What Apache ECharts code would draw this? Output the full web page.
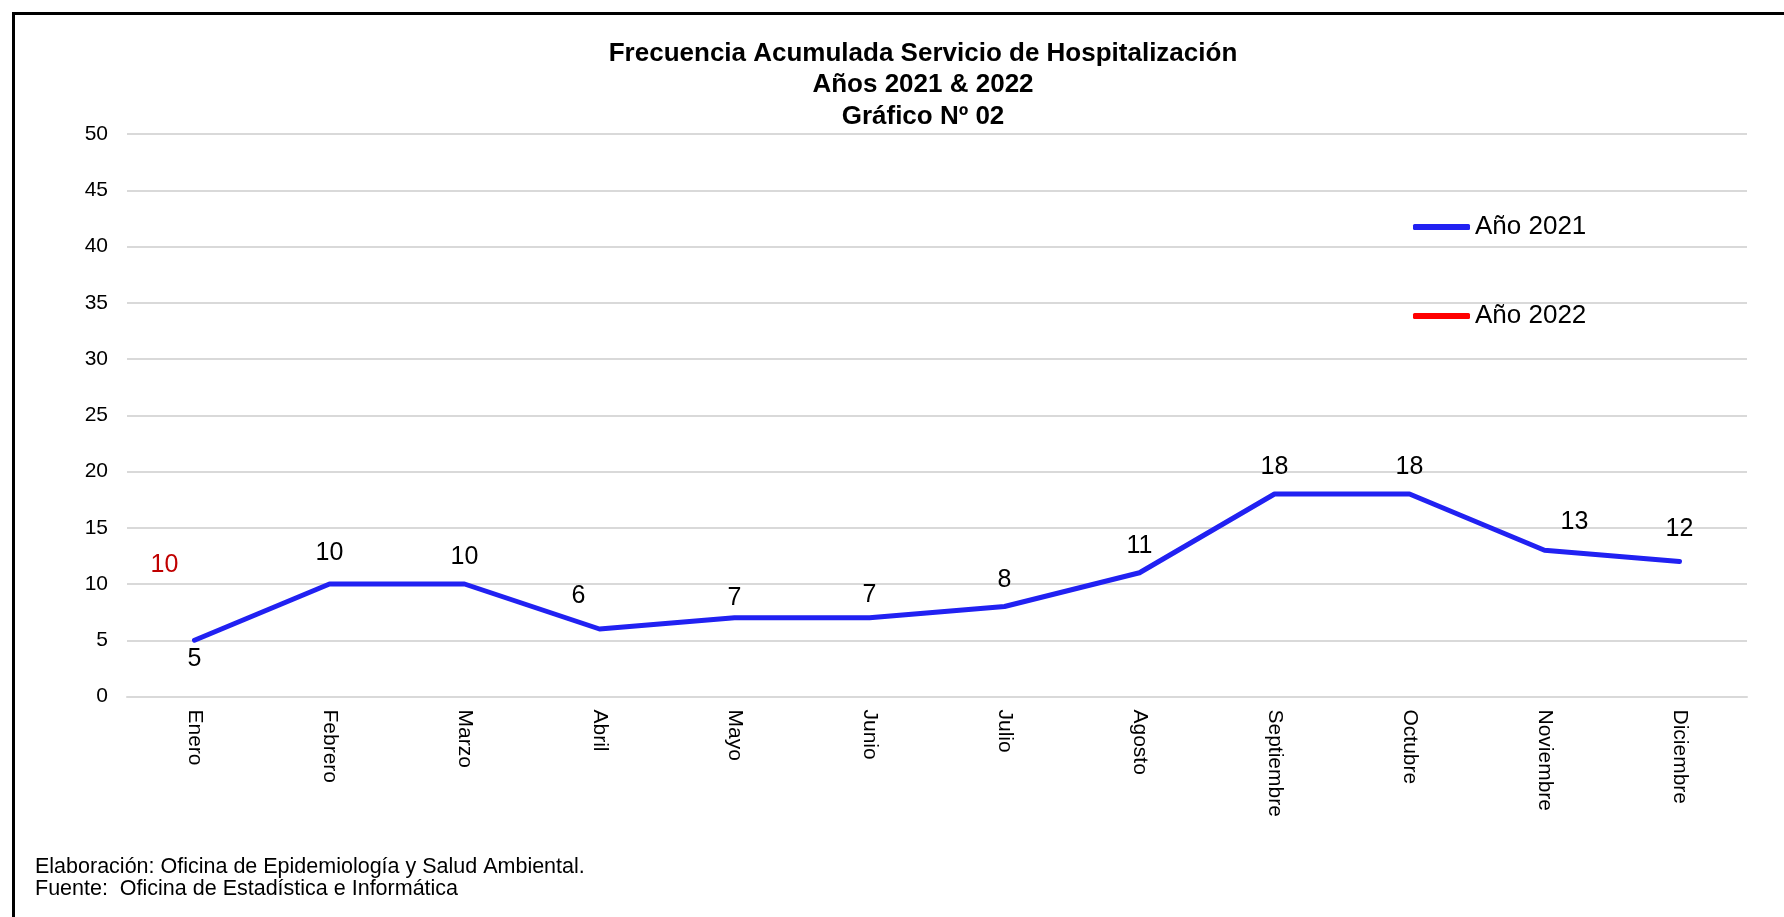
<!DOCTYPE html>
<html>
<head>
<meta charset="utf-8">
<script src="https://cdn.jsdelivr.net/npm/echarts@6/dist/echarts.min.js"></script>
<style>
  html, body { margin: 0; padding: 0; background: #fff; }
  #main_chart { width: 1784px; height: 917px; }
</style>
</head>
<body>
<div id="main_chart"></div>
<script>
  const meses = ['Enero', 'Febrero', 'Marzo', 'Abril', 'Mayo', 'Junio', 'Julio', 'Agosto', 'Septiembre', 'Octubre', 'Noviembre', 'Diciembre'];
  const anio2021 = [5, 10, 10, 6, 7, 7, 8, 11, 18, 18, 13, 12];
  const anio2022 = [10, null, null, null, null, null, null, null, null, null, null, null];
  const yTicks = { min: 0, max: 50, interval: 5 };

  // small nudges for labels, like in the excel original
  const labelNudge = { 0: 'bottom', 1: [0, -4], 3: [-21, -6], 4: [0, 7], 5: [0, 4], 10: [30, -2], 11: [0, -6] };

  const fontName = '"Liberation Sans", Arial, sans-serif';

  const data2021 = anio2021.map((v, i) => {
    const n = labelNudge[i];
    if (n === 'bottom') return { value: v, label: { position: 'bottom', distance: 6 } };
    if (n) return { value: v, label: { offset: n } };
    return v;
  });

  var chartDom = document.getElementById('main_chart');
  var myChart = echarts.init(chartDom);
  var option;

  option = {
    backgroundColor: '#fff',
    animation: false,
    title: {
      text: 'Frecuencia Acumulada Servicio de Hospitalización\nAños 2021 & 2022\nGráfico Nº 02',
      left: 918,
      top: 33,
      textAlign: 'center',
      textStyle: {
        fontFamily: fontName,
        fontSize: 26,
        fontWeight: 'bold',
        color: '#000',
        lineHeight: 31.5
      }
    },
    legend: {
      orient: 'vertical',
      left: 1408,
      top: 209,
      itemWidth: 57,
      itemHeight: 6,
      itemGap: 63,
      icon: 'roundRect',
      data: ['Año 2021', 'Año 2022'],
      textStyle: { fontFamily: fontName, fontSize: 26, color: '#000' }
    },
    grid: {
      left: 127,
      right: 37,
      top: 134,
      bottom: 220.5
    },
    xAxis: {
      type: 'category',
      data: meses,
      boundaryGap: true,
      axisLine: { lineStyle: { color: '#d9d9d9', width: 2 } },
      axisTick: { length: 5, lineStyle: { color: '#d9d9d9', width: 2 } },
      axisLabel: {
        rotate: -90,
        margin: 13,
        fontFamily: fontName,
        fontSize: 21,
        color: '#000'
      }
    },
    yAxis: {
      type: 'value',
      min: yTicks.min,
      max: yTicks.max,
      interval: yTicks.interval,
      axisLine: { show: false },
      axisTick: { show: false },
      splitLine: { lineStyle: { color: '#d9d9d9', width: 2 } },
      axisLabel: {
        margin: 19,
        fontFamily: fontName,
        fontSize: 21,
        color: '#000'
      }
    },
    graphic: [
      {
        type: 'rect',
        left: 11,
        top: 11,
        shape: { width: 1800, height: 1000 },
        style: { fill: 'none', stroke: '#000', lineWidth: 3 },
        z: 100
      },
      {
        type: 'text',
        left: 35,
        top: 856,
        style: {
          text: 'Elaboración: Oficina de Epidemiología y Salud Ambiental.\nFuente:  Oficina de Estadística e Informática',
          fontFamily: fontName,
          fontSize: 21.5,
          lineHeight: 22,
          fill: '#000'
        }
      }
    ],
    series: [
      {
        name: 'Año 2021',
        type: 'line',
        data: data2021,
        showSymbol: true,
        symbol: 'circle',
        symbolSize: 0.1,
        color: '#2121f2',
        lineStyle: { width: 5, color: '#2121f2', cap: 'round', join: 'round' },
        label: {
          show: true,
          position: 'top',
          distance: 14,
          fontFamily: fontName,
          fontSize: 25,
          color: '#000'
        }
      },
      {
        name: 'Año 2022',
        type: 'line',
        data: anio2022,
        showSymbol: true,
        symbol: 'circle',
        symbolSize: 0.1,
        color: '#ff0000',
        lineStyle: { width: 5, color: '#ff0000' },
        label: {
          show: true,
          position: 'top',
          distance: 6,
          offset: [-30, 0],
          fontFamily: fontName,
          fontSize: 25,
          color: '#c00000'
        }
      }
    ]
  };

  option && myChart.setOption(option);
</script>
</body>
</html>
